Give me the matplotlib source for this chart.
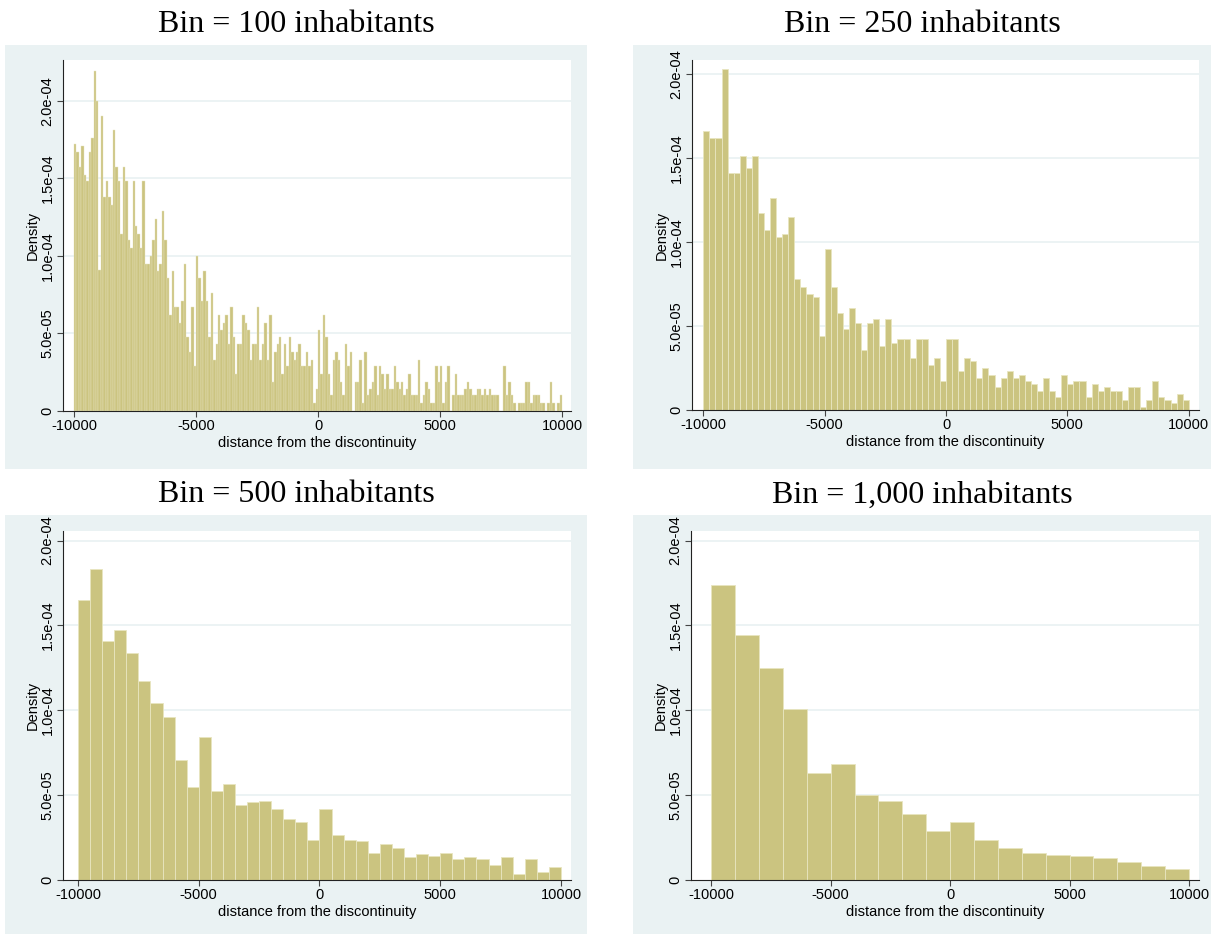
import numpy as np
import matplotlib
matplotlib.use("Agg")
import matplotlib.pyplot as plt
from matplotlib.patches import Rectangle

plt.rcParams['font.family'] = ['Liberation Sans', 'DejaVu Sans']
plt.rcParams['axes.unicode_minus'] = False

# Densidades, en unidades de 1e-05
titulos = ["Bin = 100 inhabitants", "Bin = 250 inhabitants",
           "Bin = 500 inhabitants", "Bin = 1,000 inhabitants"]
anchos = [100, 250, 500, 1000]

dens_100 = [
    17.2, 16.7, 15.7, 17.1, 15.2, 14.8, 16.7, 17.6, 21.9, 20.0,
    9.1, 19.0, 13.8, 14.8, 13.8, 13.3, 18.1, 15.7, 14.8, 11.4,
    15.7, 14.8, 11.0, 10.5, 14.8, 11.9, 11.4, 10.5, 14.8, 9.5,
    9.5, 10.0, 11.0, 12.4, 9.0, 9.5, 12.9, 11.0, 8.6, 6.2,
    9.0, 6.7, 6.7, 5.7, 7.1, 9.5, 4.8, 3.8, 6.7, 2.9,
    10.0, 8.6, 7.1, 9.0, 7.1, 4.8, 7.6, 3.3, 4.3, 6.2,
    5.2, 5.7, 6.2, 4.3, 6.7, 4.8, 2.4, 4.3, 4.3, 6.2,
    5.7, 5.2, 3.3, 4.3, 4.3, 6.7, 3.3, 4.3, 5.7, 3.3,
    6.2, 1.9, 3.8, 4.3, 4.8, 2.4, 4.3, 2.9, 4.8, 3.8,
    3.3, 3.8, 4.3, 2.9, 2.9, 3.8, 2.9, 3.3, 0.5, 1.4,
    5.2, 2.4, 6.2, 4.8, 2.4, 1.0, 3.3, 3.8, 3.3, 1.9,
    1.0, 4.3, 2.9, 3.8, 0.0, 1.9, 1.9, 3.3, 0.5, 3.8,
    1.0, 1.4, 1.9, 2.9, 1.0, 2.9, 2.4, 1.4, 2.4, 1.4,
    1.4, 2.9, 1.9, 1.4, 1.9, 1.0, 1.4, 2.4, 1.0, 1.0,
    1.0, 3.3, 0.5, 1.0, 1.9, 1.4, 0.5, 0.5, 2.9, 1.9,
    2.9, 0.5, 1.9, 2.9, 0.0, 1.0, 2.4, 1.0, 1.0, 1.0,
    1.4, 1.9, 1.4, 1.0, 1.0, 1.4, 1.4, 1.0, 1.4, 1.0,
    1.4, 1.0, 1.0, 1.0, 0.0, 0.0, 2.9, 1.0, 1.9, 1.0,
    0.5, 0.0, 0.5, 0.5, 0.5, 1.9, 1.9, 0.5, 1.0, 1.0,
    1.0, 0.5, 0.5, 0.0, 0.5, 1.9, 0.5, 0.0, 0.5, 1.0,
]

dens_250 = [
    16.6, 16.2, 16.2, 20.3, 14.1, 14.1, 15.1, 14.4, 15.1, 11.7,
    10.7, 12.6, 10.3, 10.5, 11.5, 7.8, 7.3, 6.9, 6.7, 4.4,
    9.6, 7.3, 5.75, 4.8, 6.1, 5.2, 3.6, 5.2, 5.4, 3.8,
    5.4, 4.0, 4.2, 4.2, 3.1, 4.2, 4.2, 2.7, 3.1, 1.7,
    4.2, 4.2, 2.3, 3.1, 2.9, 1.9, 2.5, 2.1, 1.35, 1.9,
    2.3, 1.9, 2.1, 1.7, 1.55, 1.15, 1.9, 1.15, 0.77, 2.1,
    1.55, 1.7, 1.7, 0.77, 1.55, 1.15, 1.35, 1.15, 1.15, 0.58,
    1.35, 1.35, 0.2, 0.58, 1.7, 0.77, 0.58, 0.4, 0.95, 0.58,
]

dens_500 = [
    16.5, 18.3, 14.1, 14.7, 13.4, 11.7, 10.4, 9.6, 7.06, 5.5,
    8.4, 5.25, 5.67, 4.4, 4.6, 4.67, 4.2, 3.6, 3.43, 2.37,
    4.2, 2.67, 2.37, 2.31, 1.61, 2.12, 1.9, 1.33, 1.53, 1.43,
    1.61, 1.24, 1.33, 1.25, 0.86, 1.33, 0.35, 1.25, 0.47, 0.78,
]

dens_1000 = [
    17.35, 14.45, 12.5, 10.06, 6.3, 6.84, 5.0, 4.65, 3.9, 2.9,
    3.43, 2.33, 1.86, 1.6, 1.47, 1.41, 1.29, 1.08, 0.8, 0.63,
]

series = [dens_100, dens_250, dens_500, dens_1000]

x_ticks = [-10000, -5000, 0, 5000, 10000]
x_labels = ["-10000", "-5000", "0", "5000", "10000"]
y_ticks = [0, 5e-5, 1e-4, 1.5e-4, 2e-4]
y_labels = ["0", "5.0e-05", "1.0e-04", "1.5e-04", "2.0e-04"]

# Colores estilo Stata s2color
fondo = '#eaf2f3'
barra = '#cbc480'
borde = '#e8e5c0'
grosor_borde = [0.3, 0.6, 0.6, 0.6]

W, H = 1216, 936
fig = plt.figure(figsize=(W / 100, H / 100), dpi=100)

# cajas exteriores (x0, y0, x1, y1 en pixeles), areas de grafico y limites
cajas = [(5, 45, 587, 469), (633, 45, 1211, 469),
         (5, 515, 587, 934), (633, 515, 1211, 934)]
areas = [(63, 60, 571, 411), (692, 60, 1199, 410),
         (63, 531, 571, 880), (691, 531, 1199, 880)]
xlims = [(-10451, 10369), (-10466, 10424), (-10620, 10414), (-10846, 10419)]
ytops = [2.262e-4, 2.083e-4, 2.056e-4, 2.056e-4]

for i in range(4):
    x0, y0, x1, y1 = cajas[i]
    fig.add_artist(Rectangle((x0 / W, 1 - y1 / H), (x1 - x0) / W, (y1 - y0) / H,
                             transform=fig.transFigure, facecolor=fondo,
                             edgecolor='none', zorder=0))
    fig.text((x0 + x1) / 2 / W, 1 - (y0 - 20) / H, titulos[i],
             ha='center', va='center', fontsize=23, family='Liberation Serif')

    a0, b0, a1, b1 = areas[i]
    ax = fig.add_axes([a0 / W, 1 - b1 / H, (a1 - a0) / W, (b1 - b0) / H])
    ax.set_facecolor('white')

    vals = np.array(series[i]) * 1e-5
    bordes = -10000 + np.arange(len(vals)) * anchos[i]
    ax.bar(bordes, vals, width=anchos[i], align='edge', color=barra,
           edgecolor=borde, linewidth=grosor_borde[i], zorder=2)

    ax.set_xlim(*xlims[i])
    ax.set_ylim(0, ytops[i])
    ax.set_xticks(x_ticks)
    ax.set_xticklabels(x_labels)
    ax.set_yticks(y_ticks)
    ax.set_yticklabels(y_labels, rotation=90, va='center')
    for y in y_ticks[1:]:
        ax.axhline(y, color=fondo, linewidth=1.3, zorder=1)

    for lado in ['top', 'right']:
        ax.spines[lado].set_visible(False)
    for lado in ['left', 'bottom']:
        ax.spines[lado].set_color('#222222')
        ax.spines[lado].set_linewidth(0.8)
        ax.spines[lado].set_zorder(3)
    ax.tick_params(length=4, width=0.8, color='#444444', labelsize=10.5, pad=2)
    ax.set_xlabel('distance from the discontinuity', fontsize=10.5, labelpad=2)
    ax.set_ylabel('Density', fontsize=10.5, labelpad=1)

fig.savefig('out.png', dpi=100, facecolor='white')
